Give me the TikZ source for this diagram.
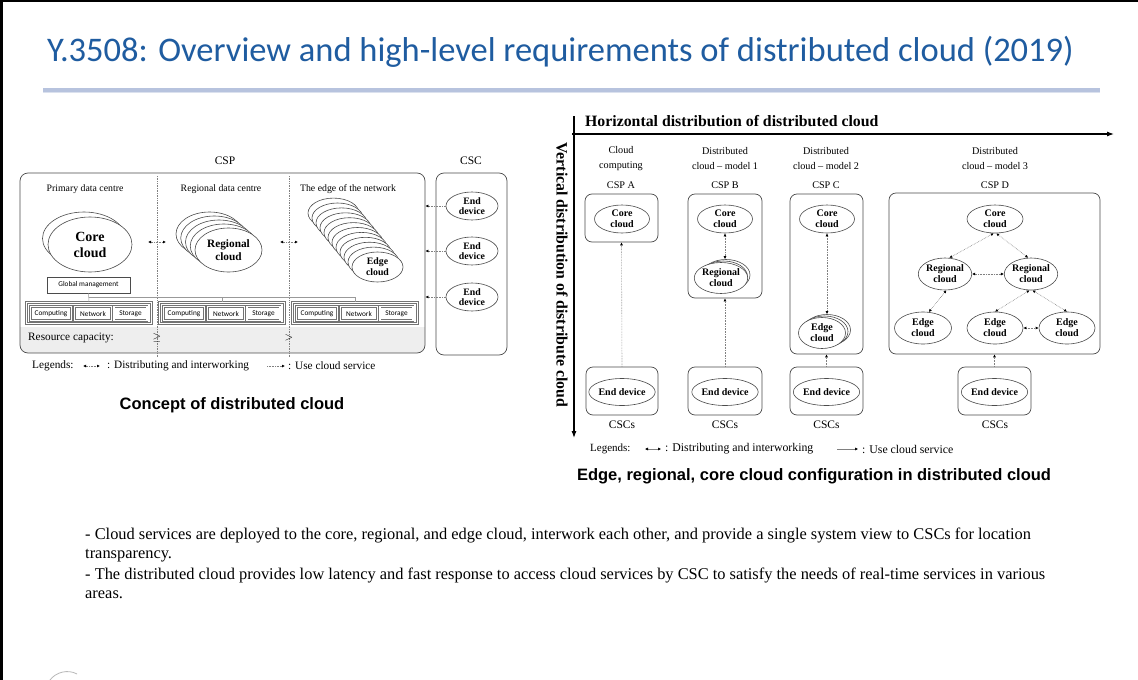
\documentclass[tikz,border=0pt]{standalone}
\usepackage{fontspec}
\setmainfont{Liberation Serif}
\newfontfamily\calibri{Carlito}
\newfontfamily\arialf{Liberation Sans}
\usetikzlibrary{shapes.geometric,arrows.meta}
\definecolor{titleblue}{RGB}{31,92,160}
\definecolor{barblue}{RGB}{183,195,222}
\definecolor{bandgray}{RGB}{238,238,238}
\definecolor{lineg}{RGB}{75,75,75}
\newcommand\fsz[2]{\fontsize{#1}{#2}\selectfont}
\begin{document}
\begin{tikzpicture}[x=1pt,y=-1pt,
  cl/.style={ellipse, draw=lineg, fill=white, line width=0.6pt, inner sep=0pt, align=center, font=\bfseries\fsz{10}{11}},
  rb/.style={draw=lineg, rounded corners=7pt, line width=0.7pt, inner sep=0pt},
  tx/.style={inner sep=0pt, font=\fsz{11.3}{12}},
  hd/.style={inner sep=0pt, align=center, font=\fsz{10.2}{15}},
  dist/.style={draw=gray, densely dotted, line width=0.6pt, {Latex[length=3pt,width=3pt,black]}-{Latex[length=3pt,width=3pt,black]}},
  distS/.style={draw=gray, line width=0.5pt, {Latex[length=3pt,width=3pt,black]}-{Latex[length=3pt,width=3pt,black]}},
  useL/.style={draw=gray, densely dotted, line width=0.6pt, -{Latex[length=3pt,width=3pt,black]}},
  useS/.style={draw=gray, line width=0.5pt, -{Latex[length=3pt,width=3pt,black]}},
  resb/.style={draw=black!55, double=white, double distance=1.1pt, line width=0.6pt, inner sep=0pt, font=\calibri\fsz{7.3}{8}},
  axis/.style={line width=1.1pt, -{Latex[length=7pt,width=5pt]}}
]
\useasboundingbox (0,0) rectangle (1138,680);
\fill[white] (0,0) rectangle (1138,680);
% screenshot frame
\fill[black] (0,0) rectangle (1138,2);
\fill[black] (0,0) rectangle (3,680);
\draw[gray!55, line width=0.8pt] (50,680) .. controls (56,672) and (68,669) .. (77,674);

% title
\node[anchor=west, inner sep=0pt, text=titleblue, font=\calibri\fsz{34.5}{36}] (title) at (47,52) {Y.3508: Overview and high-level requirements of distributed cloud (2019)};
\fill[barblue] (43,88) rectangle (1100,92);
\fill[barblue!50] (43,92) rectangle (1100,93);

% ================= LEFT DIAGRAM =================
\node[tx, font=\fsz{11.5}{12}] (csp) at (225,161) {CSP};
\node[tx, font=\fsz{11.5}{12}] (csc) at (471,161) {CSC};
\begin{scope}
  \clip[rounded corners=8pt] (20,173) rectangle (425,353);
  \fill[bandgray] (20,327) rectangle (425,353);
\end{scope}
\node[rb, rounded corners=8pt, minimum width=405pt, minimum height=180pt] (cspbox) at (222.5,263) {};
\node[rb, rounded corners=8pt, minimum width=71pt, minimum height=182pt] (cscbox) at (471.5,264) {};
\draw[gray, densely dotted, line width=0.7pt] (157,176) -- (157,357);
\draw[gray, densely dotted, line width=0.7pt] (289,176) -- (289,357);

\node[tx, font=\fsz{9.8}{10}] (h1) at (85,189) {Primary data centre};
\node[tx, font=\fsz{9.8}{10}] (h2) at (221,189) {Regional data centre};
\node[tx, font=\fsz{9.8}{10}] (h3) at (348,189) {The edge of the network};

% core cloud stack
\node[cl, minimum width=83pt, minimum height=53pt] (coreLb) at (84,238.5) {};
\node[cl, minimum width=84pt, minimum height=55pt, font=\bfseries\fsz{14}{16}] (coreL) at (90,244.5) {Core\\cloud};
% regional stack
\foreach \k in {4,3,2,1}{
  \node[cl, minimum width=67pt, minimum height=44pt] (regLb\k) at ({228.5-4.75*\k},{250-4*\k}) {};
}
\node[cl, minimum width=67pt, minimum height=44pt, font=\bfseries\fsz{11.3}{13}] (regL) at (228.5,250) {Regional\\cloud};
% edge stack
\foreach \k in {11,10,...,1}{
  \node[cl, minimum width=51pt, minimum height=30pt] (edgeLb\k) at ({377.5-4*\k},{267-4.9*\k}) {};
}
\node[cl, minimum width=51pt, minimum height=30pt, font=\bfseries\fsz{9.8}{11}] (edgeL) at (377.5,267) {Edge\\cloud};

% distributing arrows
\coordinate (dl1) at (148,242); \coordinate (dr1) at (166,242);
\coordinate (dl2) at (280,242); \coordinate (dr2) at (298,242);
\draw[dist] (dl1) -- (dr1);
\draw[dist] (dl2) -- (dr2);

% global management & resources
\node[draw=lineg, line width=0.5pt, minimum width=83pt, minimum height=16pt, inner sep=0pt, font=\calibri\fsz{7.3}{8}] (gm) at (88.5,285) {Global management};
\node[resb, minimum width=125pt, minimum height=21pt] (g1) at (89,313) {};
\node[resb, minimum width=125pt, minimum height=21pt] (g2) at (222,313) {};
\node[resb, minimum width=125pt, minimum height=21pt] (g3) at (355,313) {};
\foreach \g/\o in {1/0,2/133,3/266}{
  \node[resb, minimum width=41pt, minimum height=14pt] (c\g) at (51+\o,313.5) {Computing};
  \node[resb, minimum width=37pt, minimum height=14pt] (n\g) at (93+\o,313.5) {Network};
  \node[resb, minimum width=33pt, minimum height=14pt] (s\g) at (130.5+\o,313.5) {Storage};
}
\draw[gray!80, line width=0.5pt] (gm.south) -- (g1.north);
\coordinate (gmj) at (88.5,297);
\draw[gray!80, line width=0.5pt] (gmj) -| (g2.north);
\draw[gray!80, line width=0.5pt] (gmj) -| (g3.north);

\node[tx, anchor=west] (rc) at (28,338) {Resource capacity:};
\node[tx] (ge) at (157,338) {$\geq$};
\node[tx] (gt) at (289,338) {$>$};

% end devices
\node[cl, minimum width=52pt, minimum height=28pt, font=\bfseries\fsz{9.8}{10.5}] (ed1) at (472,206) {End\\device};
\node[cl, minimum width=52pt, minimum height=28pt, font=\bfseries\fsz{9.8}{10.5}] (ed2) at (472,251) {End\\device};
\node[cl, minimum width=52pt, minimum height=28pt, font=\bfseries\fsz{9.8}{10.5}] (ed3) at (472,297) {End\\device};
\draw[useL] (ed1.west) -- (ed1.west -| cspbox.east);
\draw[useL] (ed2.west) -- (ed2.west -| cspbox.east);
\draw[useL] (ed3.west) -- (ed3.west -| cspbox.east);

% legends left
\node[tx, anchor=west] (lgL) at (32,366) {Legends:};
\coordinate (lga1) at (83,366); \coordinate (lga2) at (100,366);
\draw[dist] (lga1) -- (lga2);
\node[tx, anchor=west] (lgL2) at (107,366) {: Distributing and interworking};
\coordinate (lgb1) at (267,366); \coordinate (lgb2) at (285,366);
\draw[useL] (lgb1) -- (lgb2);
\node[tx, anchor=west] (lgL3) at (288,366) {: Use cloud service};

\node[inner sep=0pt, font=\arialf\bfseries\fsz{16.5}{18}] (capL) at (232,405) {Concept of distributed cloud};

% ================= RIGHT DIAGRAM =================
\coordinate (hx0) at (572,134); \coordinate (hx1) at (1114,134);
\coordinate (vy0) at (574,116); \coordinate (vy1) at (574,438);
\draw[axis] (hx0) -- (hx1);
\draw[axis] (vy0) -- (vy1);
\node[tx, anchor=west, font=\bfseries\fsz{15.8}{17}] (hlab) at (585,121) {Horizontal distribution of distributed cloud};
\node[tx, rotate=-90, font=\bfseries\fsz{15.8}{17}] (vlab) at (562,275) {Vertical distribution of distribute cloud};

\node[hd] (hA) at (621,159) {Cloud\\computing};
\node[hd] (hB) at (725,159) {Distributed\\cloud -- model 1};
\node[hd] (hC) at (826,159) {Distributed\\cloud -- model 2};
\node[hd] (hD) at (995,159) {Distributed\\cloud -- model 3};
\node[hd] (pA) at (621,185) {CSP A};
\node[hd] (pB) at (725,185) {CSP B};
\node[hd] (pC) at (826,185) {CSP C};
\node[hd] (pD) at (995,185) {CSP D};

\node[rb, minimum width=73pt, minimum height=48pt] (boxA) at (621.5,218) {};
\node[rb, minimum width=74pt, minimum height=104pt] (boxB) at (725,246) {};
\node[rb, minimum width=73pt, minimum height=160pt] (boxC) at (826.5,274) {};
\node[rb, minimum width=211pt, minimum height=161pt] (boxD) at (994.5,273.5) {};

\node[cl, minimum width=55pt, minimum height=28pt] (coreA) at (622,219) {Core\\cloud};
\node[cl, minimum width=55pt, minimum height=28pt] (coreB) at (725,219) {Core\\cloud};
\node[cl, minimum width=55pt, minimum height=28pt] (coreC) at (827,219) {Core\\cloud};
\node[cl, minimum width=56pt, minimum height=28pt] (coreD) at (995,219) {Core\\cloud};

\node[cl, minimum width=48pt, minimum height=31pt] (regB2) at (726,275) {};
\node[cl, minimum width=48pt, minimum height=31pt] (regB1) at (723.5,276.5) {};
\node[cl, minimum width=48pt, minimum height=31pt] (regB) at (721,278) {Regional\\cloud};

\node[cl, minimum width=47pt, minimum height=31pt] (edgeC2) at (827,330) {};
\node[cl, minimum width=47pt, minimum height=31pt] (edgeC1) at (824.5,331.5) {};
\node[cl, minimum width=47pt, minimum height=31pt] (edgeC) at (822,333) {Edge\\cloud};

\node[cl, minimum width=52pt, minimum height=32pt] (regDL) at (945,274) {Regional\\cloud};
\node[cl, minimum width=52pt, minimum height=32pt] (regDR) at (1031,274) {Regional\\cloud};
\node[cl, minimum width=57pt, minimum height=32pt] (edgeDL) at (923,328) {Edge\\cloud};
\node[cl, minimum width=56pt, minimum height=32pt] (edgeDM) at (995,328) {Edge\\cloud};
\node[cl, minimum width=56pt, minimum height=32pt] (edgeDR) at (1067,328) {Edge\\cloud};

\node[rb, minimum width=72pt, minimum height=48pt] (ebA) at (622,391) {};
\node[rb, minimum width=74pt, minimum height=48pt] (ebB) at (725,391) {};
\node[rb, minimum width=73pt, minimum height=48pt] (ebC) at (826.5,391) {};
\node[rb, minimum width=73pt, minimum height=48pt] (ebD) at (994.5,391) {};
\node[cl, minimum width=55pt, minimum height=27pt] (edA) at (622,392) {End device};
\node[cl, minimum width=55pt, minimum height=27pt] (edB) at (725,392) {End device};
\node[cl, minimum width=55pt, minimum height=27pt] (edC) at (826.5,392) {End device};
\node[cl, minimum width=55pt, minimum height=27pt] (edD) at (994.5,392) {End device};

\node[tx, font=\fsz{11.5}{12}] (cA) at (622,425) {CSCs};
\node[tx, font=\fsz{11.5}{12}] (cB) at (725,425) {CSCs};
\node[tx, font=\fsz{11.5}{12}] (cC) at (826.5,425) {CSCs};
\node[tx, font=\fsz{11.5}{12}] (cD) at (995,425) {CSCs};

% use cloud service arrows
\draw[useL] (ebA.north) -- (boxA.south);
\draw[useL] (ebB.north) -- (boxB.south);
\draw[useL] (ebC.north) -- (boxC.south);
\draw[useL] (ebD.north) -- (boxD.south);
% distributing arrows
\draw[dist] (coreB.south) -- (coreB.south |- regB2.north);
\draw[dist] (coreC.south) -- (coreC.south |- edgeC2.north);
\draw[dist] (coreD.265) -- (regDL.75);
\draw[dist] (coreD.275) -- (regDR.100);
\draw[dist] (regDL.east) -- (regDR.west);
\draw[dist] (regDL.275) -- (edgeDL.70);
\draw[dist] (regDR.265) -- (edgeDM.north);
\draw[dist] (regDR.275) -- (edgeDR.north);
\draw[dist] (edgeDM.east) -- (edgeDR.west);

% legends right
\node[tx, anchor=west, font=\fsz{11}{12}] (lgR) at (590,449) {Legends:};
\coordinate (lrc1) at (645,449); \coordinate (lrc2) at (661,449);
\draw[distS] (lrc1) -- (lrc2);
\node[tx, anchor=west, font=\fsz{11.8}{12}] (lgR2) at (665,449) {: Distributing and interworking};
\coordinate (lrd1) at (837,449); \coordinate (lrd2) at (858,449);
\draw[useS] (lrd1) -- (lrd2);
\node[tx, anchor=west, font=\fsz{11.8}{12}] (lgR3) at (862,449) {: Use cloud service};

\node[inner sep=0pt, font=\arialf\bfseries\fsz{16.5}{18}] (capR) at (814,476) {Edge, regional, core cloud configuration in distributed cloud};

% ================= BODY TEXT =================
\node[anchor=base west, inner sep=0pt, font=\fsz{16.4}{18}] (p1) at (85,539) {- Cloud services are deployed to the core, regional, and edge cloud, interwork each other, and provide a single system view to CSCs for location};
\node[anchor=base west, inner sep=0pt, font=\fsz{16.4}{18}] (p2) at (85,558) {transparency.};
\node[anchor=base west, inner sep=0pt, font=\fsz{16.4}{18}] (p3) at (85,579) {- The distributed cloud provides low latency and fast response to access cloud services by CSC to satisfy the needs of real-time services in various};
\node[anchor=base west, inner sep=0pt, font=\fsz{16.4}{18}] (p4) at (85,598) {areas.};
\end{tikzpicture}
\end{document}
